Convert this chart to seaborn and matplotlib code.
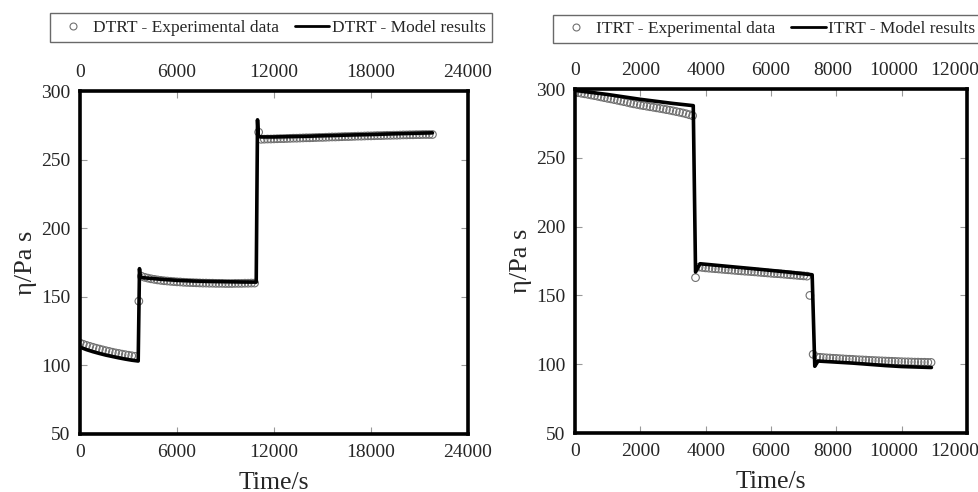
import matplotlib
matplotlib.use("Agg")
import matplotlib.pyplot as plt
import matplotlib.transforms as mtrans
import seaborn as sns
from matplotlib.lines import Line2D

# ---- DTRT (left panel) ----
dtrt_exp_t = [0, 200, 400, 600, 800, 1000, 1200, 1400, 1600, 1800, 2000, 2200, 2400, 2600, 2800, 3000, 3200, 3400,
              3640,
              3800, 4000, 4200, 4400, 4600, 4800, 5000, 5200, 5400, 5600, 5800, 6000, 6200, 6400, 6600, 6800, 7000, 7200,
              7400, 7600, 7800, 8000, 8200, 8400, 8600, 8800, 9000, 9200, 9400, 9600, 9800, 10000, 10200, 10400, 10600, 10800,
              11050,
              11200, 11400, 11600, 11800, 12000, 12200, 12400, 12600, 12800, 13000, 13200, 13400, 13600, 13800, 14000,
              14200, 14400, 14600, 14800, 15000, 15200, 15400, 15600, 15800, 16000, 16200, 16400, 16600, 16800, 17000,
              17200, 17400, 17600, 17800, 18000, 18200, 18400, 18600, 18800, 19000, 19200, 19400, 19600, 19800, 20000,
              20200, 20400, 20600, 20800, 21000, 21200, 21400, 21600, 21800]
dtrt_exp_eta = [116.3, 115.4, 114.6, 113.9, 113.2, 112.5, 111.9, 111.3, 110.7, 110.2, 109.6, 109.1, 108.7, 108.2, 107.8, 107.4, 107.0, 106.6,
                146.8,
                165.0, 164.2, 163.6, 163.1, 162.7, 162.3, 162.0, 161.7, 161.5, 161.3, 161.1, 160.9, 160.8, 160.6, 160.5, 160.4, 160.3, 160.2,
                160.1, 160.0, 160.0, 159.9, 159.9, 159.8, 159.8, 159.8, 159.7, 159.7, 159.7, 159.8, 159.8, 159.8, 159.9, 159.9, 160.0, 160.0,
                270.0,
                264.8, 264.9, 265.0, 265.0, 265.1, 265.2, 265.3, 265.3, 265.4, 265.5, 265.6, 265.6, 265.7, 265.8, 265.9,
                265.9, 266.0, 266.1, 266.2, 266.2, 266.3, 266.4, 266.5, 266.5, 266.6, 266.7, 266.8, 266.8, 266.9, 267.0,
                267.1, 267.1, 267.2, 267.3, 267.3, 267.4, 267.5, 267.5, 267.6, 267.7, 267.7, 267.8, 267.8, 267.9, 268.0,
                268.0, 268.1, 268.1, 268.2, 268.2, 268.3, 268.3, 268.3, 268.3]
dtrt_mod_t = [0, 400, 800, 1200, 1600, 2000, 2400, 2800, 3200, 3600, 3680, 3720, 4000, 5000, 6000, 7000, 8000, 9000, 10000, 10900,
              10980, 11030, 11200, 12000, 14000, 16000, 18000, 20000, 21800]
dtrt_mod_eta = [113.3, 111.5, 110.0, 108.7, 107.5, 106.5, 105.5, 104.6, 103.8, 103.2, 170.5, 164.5, 163.8, 162.8, 162.0, 161.5, 161.2, 161.0, 160.8, 160.7,
                279.0, 267.0, 266.5, 266.5, 267.0, 267.7, 268.3, 269.0, 269.5]

# ---- ITRT (right panel) ----
itrt_exp_t = [0, 100, 200, 300, 400, 500, 600, 700, 800, 900, 1000, 1100, 1200, 1300, 1400, 1500, 1600, 1700, 1800, 1900,
              2000, 2100, 2200, 2300, 2400, 2500, 2600, 2700, 2800, 2900, 3000, 3100, 3200, 3300, 3400, 3500, 3600,
              3690,
              3800, 3900, 4000, 4100, 4200, 4300, 4400, 4500, 4600, 4700, 4800, 4900, 5000, 5100, 5200, 5300, 5400,
              5500, 5600, 5700, 5800, 5900, 6000, 6100, 6200, 6300, 6400, 6500, 6600, 6700, 6800, 6900, 7000, 7100,
              7190, 7290,
              7400, 7500, 7600, 7700, 7800, 7900, 8000, 8100, 8200, 8300, 8400, 8500, 8600, 8700, 8800, 8900, 9000,
              9100, 9200, 9300, 9400, 9500, 9600, 9700, 9800, 9900, 10000, 10100, 10200, 10300, 10400, 10500, 10600,
              10700, 10800, 10900]
itrt_exp_eta = [297.6, 297.3, 296.9, 296.5, 296.1, 295.6, 295.2, 294.7, 294.2, 293.7, 293.2, 292.8, 292.3, 291.8, 291.3, 290.8,
                290.3, 289.7, 289.2, 288.8, 288.3, 287.9, 287.5, 287.1, 286.7, 286.3, 285.9, 285.5, 285.0, 284.6, 284.1,
                283.6, 283.1, 282.6, 282.0, 281.3, 280.6,
                162.9,
                170.6, 170.3, 170.0, 169.8, 169.6, 169.4, 169.2, 169.0, 168.8, 168.6, 168.4, 168.2, 168.0, 167.8, 167.6,
                167.5, 167.3, 167.1, 166.9, 166.7, 166.5, 166.3, 166.1, 165.9, 165.8, 165.6, 165.4, 165.2, 165.0, 164.8,
                164.6, 164.4, 164.2, 164.0,
                150.0, 107.2,
                105.2, 105.0, 104.8, 104.6, 104.5, 104.3, 104.2, 104.0, 103.9, 103.7, 103.6, 103.5, 103.3, 103.2, 103.1,
                103.0, 102.8, 102.7, 102.6, 102.5, 102.4, 102.3, 102.2, 102.1, 102.0, 101.9, 101.8, 101.7, 101.7, 101.6,
                101.5, 101.5, 101.4, 101.4, 101.3, 101.3]
itrt_mod_t = [0, 1000, 2000, 3000, 3620, 3690, 3830, 4500, 5500, 6500, 7260, 7340, 7440, 8500, 9500, 10000, 10910]
itrt_mod_eta = [299.0, 296.0, 292.5, 289.5, 287.9, 167.0, 173.0, 171.5, 169.3, 167.0, 165.0, 98.5, 102.3, 100.8, 99.0, 98.3, 97.6]

panels = [
    ("DTRT", dtrt_exp_t, dtrt_exp_eta, dtrt_mod_t, dtrt_mod_eta, [0, 6000, 12000, 18000, 24000], 24000),
    ("ITRT", itrt_exp_t, itrt_exp_eta, itrt_mod_t, itrt_mod_eta, [0, 2000, 4000, 6000, 8000, 10000, 12000], 12000),
]

sns.set_style("ticks")
plt.rcParams['font.family'] = ['Liberation Serif', 'DejaVu Serif']

fig = plt.figure(figsize=(9.79, 4.92), dpi=100)
ax_pos = [[80 / 979, 1 - 434 / 492, 388 / 979, 343 / 492],
          [575 / 979, 1 - 433 / 492, 392 / 979, 344 / 492]]
leg_pos = [(0.492, 1.185), (0.49, 1.175)]
axes = []

for i, (name, et, ee, mt, me, xt, xmax) in enumerate(panels):
    ax = fig.add_axes(ax_pos[i])
    axes.append(ax)
    sns.lineplot(x=mt, y=me, ax=ax, color="black", lw=2.6, sort=False, estimator=None, zorder=3)
    sns.scatterplot(x=et, y=ee, ax=ax, marker="o", s=30, facecolor="none",
                    edgecolor="#707070", linewidth=0.8, zorder=2)
    ax.set_xlim(0, xmax)
    ax.set_ylim(50, 300)
    ax.set_xticks(xt)
    ax.set_xticklabels([str(v) for v in xt])
    ax.set_yticks([50, 100, 150, 200, 250, 300])
    ax.tick_params(axis="both", direction="in", length=5, width=0.8, color="#999999",
                   labelsize=14, top=True, right=True, labeltop=True, pad=7)
    for sp in ax.spines.values():
        sp.set_linewidth(2.6)
        sp.set_color("black")
    ax.set_xlabel("Time/s", fontsize=18.5, labelpad=8)
    ax.set_ylabel("η/Pa s", fontsize=19, labelpad=3)

    handles = [Line2D([], [], marker="o", ls="none", mfc="none", mec="#707070", ms=5, mew=0.8),
               Line2D([], [], color="black", lw=2)]
    labels = [f"{name} - Experimental data", f"{name} - Model results"]
    leg = ax.legend(handles, labels, loc="center", bbox_to_anchor=leg_pos[i], ncol=2,
                    fontsize=12.5, frameon=True, fancybox=False, edgecolor="#444444",
                    handlelength=2.0, handletextpad=0.15, columnspacing=0.9, borderpad=0.35,
                    borderaxespad=0)
    leg.get_frame().set_linewidth(1.0)

# in the original the right panel's last x labels sit a little left of their ticks
fig.canvas.draw()
ticks = axes[1].xaxis.get_major_ticks()
for tk, dx in zip(ticks[-3:], [-4, -8, -12]):
    shift = mtrans.ScaledTranslation(dx / 100, 0, fig.dpi_scale_trans)
    tk.label1.set_transform(tk.label1.get_transform() + shift)
    tk.label2.set_transform(tk.label2.get_transform() + shift)

fig.savefig("out.png", dpi=100)
